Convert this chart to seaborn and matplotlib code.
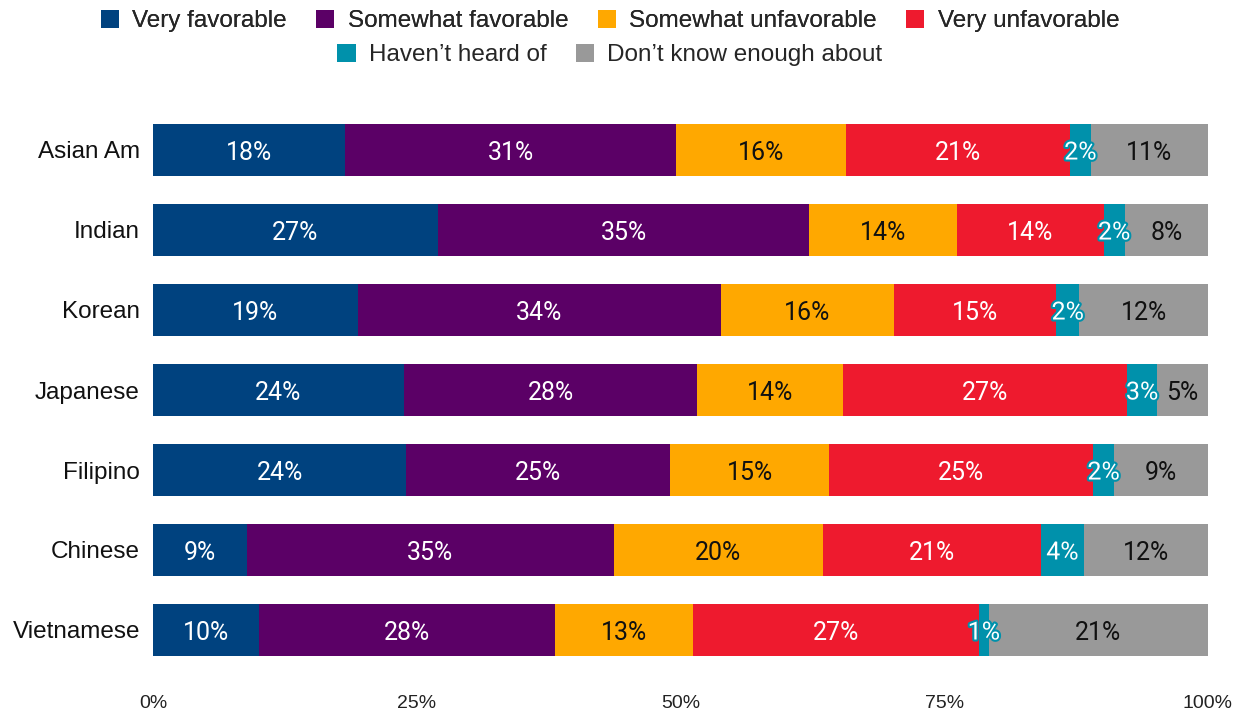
import numpy as np
import pandas as pd
import matplotlib
matplotlib.use('Agg')
import matplotlib.pyplot as plt
import matplotlib.patheffects as pe
from matplotlib.patches import Patch
import seaborn as sns

groups = ['Asian Am', 'Indian', 'Korean', 'Japanese', 'Filipino', 'Chinese', 'Vietnamese']
categories = ['Very favorable', 'Somewhat favorable', 'Somewhat unfavorable',
              'Very unfavorable', "Haven\u2019t heard of", 'Don\u2019t know enough about']
very_fav = [18.2, 27.0, 19.4, 23.8, 24.0, 8.9, 10.0]
somewhat_fav = [31.4, 35.2, 34.4, 27.8, 25.0, 34.8, 28.1]
somewhat_unfav = [16.1, 14.0, 16.4, 13.8, 15.1, 19.8, 13.1]
very_unfav = [21.2, 13.9, 15.4, 26.9, 25.0, 20.7, 27.1]
not_heard = [2.0, 2.0, 2.2, 2.9, 2.0, 4.0, 0.9]
dont_know = [11.1, 7.9, 12.2, 4.8, 8.9, 11.8, 20.8]
xticks = [0, 25, 50, 75, 100]

colors = ['#00427f', '#5b0066', '#ffa800', '#ee1a2e', '#0091ab', '#999999']
text_colors = ['white', 'white', '#111111', 'white', 'white', '#111111']

sns.set_theme(style='white')
plt.rcParams['font.family'] = ['Liberation Sans', 'DejaVu Sans']

df = pd.DataFrame(dict(zip(categories, [very_fav, somewhat_fav, somewhat_unfav,
                                        very_unfav, not_heard, dont_know])), index=groups)
cum = df.cumsum(axis=1)

fig = plt.figure(figsize=(12.36, 7.12), dpi=100)
ax = fig.add_axes([153 / 1236, 1 - 670 / 712, (1208 - 153) / 1236, 560 / 712])

# stacked bars: draw cumulative totals from the last segment backwards
for i in range(len(categories) - 1, -1, -1):
    sns.barplot(x=cum.iloc[:, i].values, y=groups, color=colors[i], orient='h',
                width=0.65, saturation=1, ax=ax, linewidth=0)

for i, cat in enumerate(categories):
    left = cum.iloc[:, i] - df[cat]
    for j, g in enumerate(groups):
        v = df.loc[g, cat]
        t = ax.text(left.iloc[j] + v / 2, j, f"{v:.0f}%", ha='center', va='center_baseline',
                    color=text_colors[i], fontsize=18, family=['Roboto', 'DejaVu Sans'])
        if i == 4:
            t.set_path_effects([pe.withStroke(linewidth=3, foreground=colors[4])])

ax.set_xlim(0, 100)
ax.set_ylim(len(groups) - 0.5, -0.5)
ax.set_xticks(xticks)
ax.set_xticklabels([f"{x}%" for x in xticks])
ax.tick_params(axis='x', length=0, pad=18, labelsize=14, labelcolor='#222222')
ax.tick_params(axis='y', length=0, pad=9.4, labelsize=17.5, labelcolor='#111111')
ax.set_xlabel('')
ax.set_ylabel('')
sns.despine(ax=ax, left=True, bottom=True)

handles = [Patch(facecolor=c, edgecolor='none') for c in colors]
leg_kw = dict(loc='center', frameon=False, fontsize=17.5, handlelength=0.75,
              handleheight=0.75, handletextpad=0.55, columnspacing=1.2, borderpad=0)
leg1 = fig.legend(handles[:4], categories[:4], ncol=4,
                  bbox_to_anchor=(610 / 1236, 1 - 21 / 712), **leg_kw)
fig.add_artist(leg1)
fig.legend(handles[4:], categories[4:], ncol=2,
           bbox_to_anchor=(610 / 1236, 1 - 55 / 712), **leg_kw)

fig.savefig('out.png', dpi=100, facecolor='white')
